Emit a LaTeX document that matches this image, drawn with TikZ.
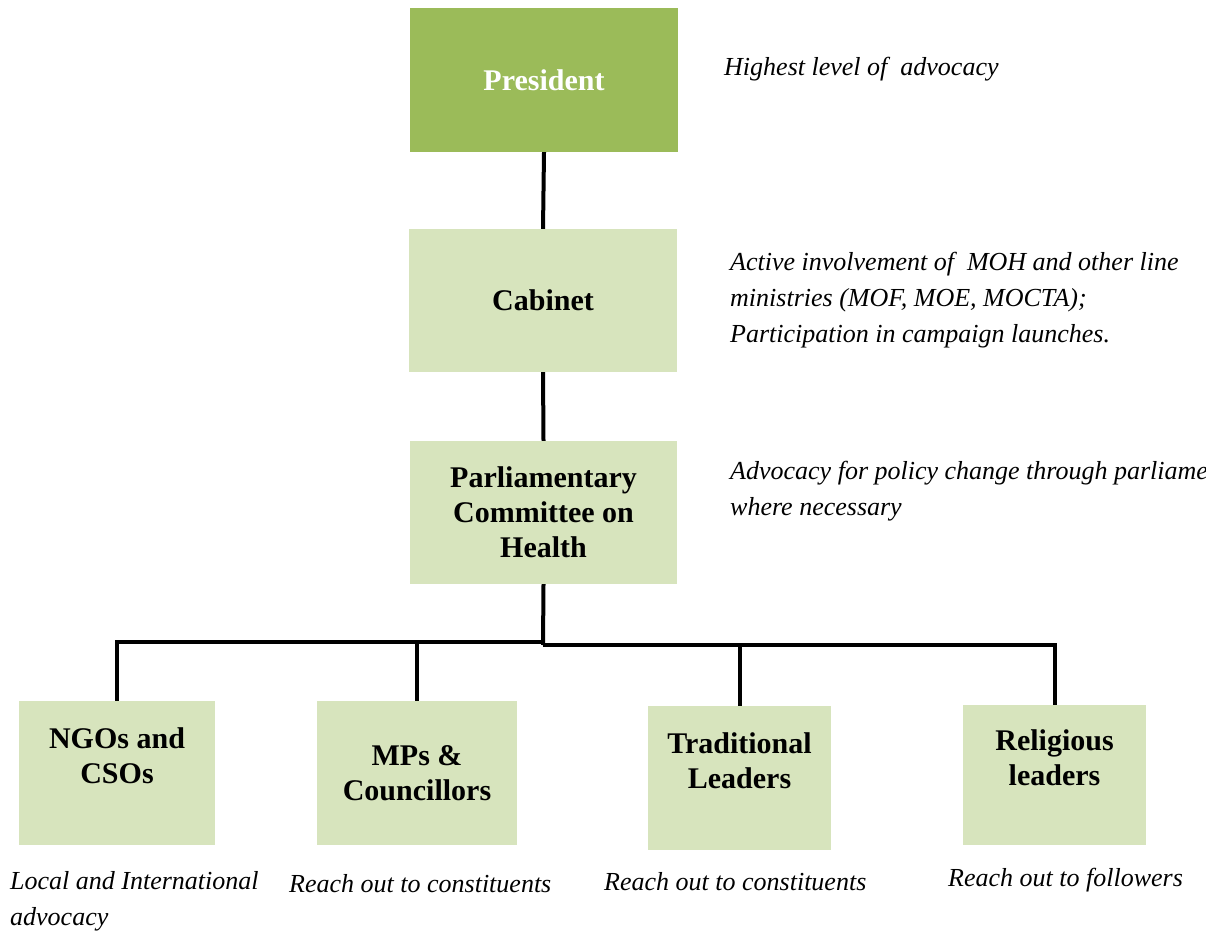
\documentclass[tikz,border=0pt]{standalone}
\usepackage{fontspec}
\setmainfont{Liberation Serif}
\definecolor{topgreen}{HTML}{9BBB59}
\definecolor{palegreen}{HTML}{D7E4BD}

\begin{document}
\begin{tikzpicture}[x=1pt,y=-1pt,
  box/.style={fill=palegreen, inner sep=0pt, align=center,
    font=\fontsize{30}{35}\selectfont\bfseries},
  note/.style={anchor=west, inner sep=0pt, align=left,
    font=\fontsize{26}{36}\selectfont\itshape},
  link/.style={line width=4pt}]
\useasboundingbox (0,0) rectangle (1206,933);
\clip (0,0) rectangle (1206,933);

% hierarchy boxes
\node[box, fill=topgreen, text=white, minimum width=268pt, minimum height=144pt]
  (pres) at (544,80) {President};
\node[box, minimum width=268pt, minimum height=143pt] (cab) at (543,300.5) {Cabinet};
\node[box, minimum width=267pt, minimum height=143pt] (parl) at (543.5,512.5)
  {Parliamentary\\Committee on\\Health};
\node[box, minimum width=196pt, minimum height=144pt] (ngo) at (117,773)
  {NGOs and\\CSOs\\\mbox{}};
\node[box, minimum width=200pt, minimum height=144pt] (mps) at (417,773)
  {MPs \&\\Councillors};
\node[box, minimum width=183pt, minimum height=144pt] (trad) at (739.5,778)
  {Traditional\\Leaders\\\mbox{}};
\node[box, minimum width=183pt, minimum height=140pt] (rel) at (1054.5,775)
  {Religious\\leaders\\\mbox{}};

% connectors
\coordinate (hubL) at (543,642);
\coordinate (hubR) at (543,645);
\draw[link] (pres.south) -- (cab.north);
\draw[link] (cab.south) -- (parl.north);
\draw[link] (parl.south) -- (hubR);
\draw[link] (hubL) -| (ngo.north);
\draw[link] (hubL) -| (mps.north);
\draw[link] (hubR) -| (trad.north);
\draw[link] (hubR) -| (rel.north);

% side notes
\node[note] (n1) at (724,69) {Highest level of\ \ advocacy};
\node[note] (n2) at (730,300) {Active involvement of\ \ MOH and other line\\
  ministries (MOF, MOE, MOCTA);\\Participation in campaign launches.};
\node[note] (n3) at (730,491) {Advocacy for policy change through parliament\\where necessary};
\node[note] (n4) at (10,901) {Local and International\\advocacy};
\node[note] (n5) at (289,884) {Reach out to constituents};
\node[note] (n6) at (604,882) {Reach out to constituents};
\node[note] (n7) at (948,880) {Reach out to followers};
\end{tikzpicture}
\end{document}
